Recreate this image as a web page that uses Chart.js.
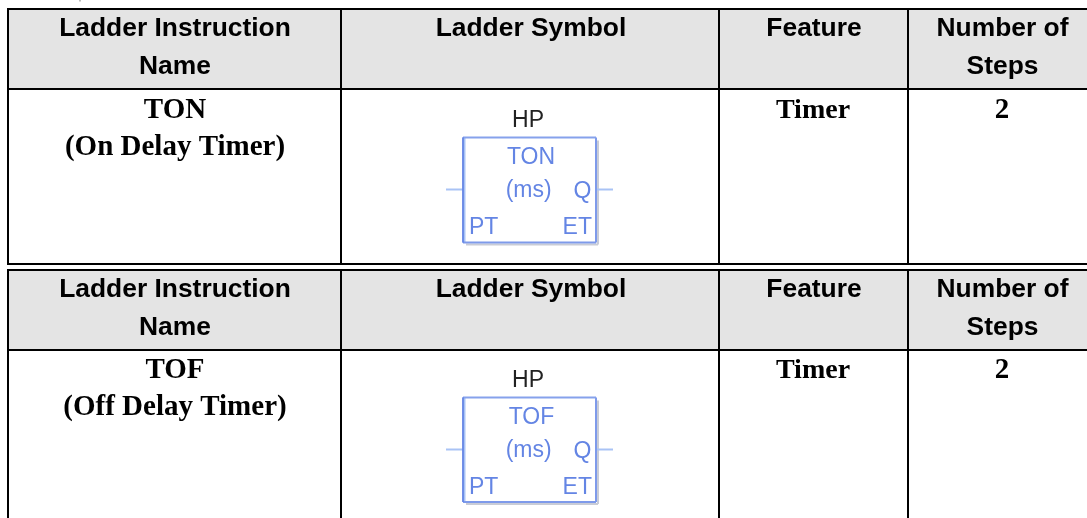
<!DOCTYPE html>
<html>
<head>
<meta charset="utf-8">
<style>
html, body { margin: 0; padding: 0; background: #fff; overflow: hidden; }
#wrap { width: 1087px; height: 518px; }
</style>
<script src="https://cdn.jsdelivr.net/npm/chart.js@4"></script>
</head>
<body>
<div id="wrap"><canvas id="myChart"></canvas></div>
<script>
// table grid
var colEdges = [8, 341, 719, 908, 1087];
var colCenters = [175, 531, 814, 1002.5];
var table1Rows = [9, 89, 264];
var table2Rows = [270, 350, 518];

var headers = [['Ladder Instruction', 'Name'], ['Ladder Symbol'], ['Feature'], ['Number of', 'Steps']];
var names1 = ['TON', '(On Delay Timer)'];
var names2 = ['TOF', '(Off Delay Timer)'];
var feature = 'Timer';
var steps = '2';

var headerBase1 = [35.5, 73.5];
var headerBase2 = [296.5, 334.5];
var bodyBase1 = [118, 155];
var bodyBase2 = [378, 414.5];

// symbol box
var boxX = [463, 596];
var box1Y = [137.5, 242.5];
var box2Y = [397.5, 502];
var wireIn = [446, 463];
var wireOut = [597, 613];

var black = '#000';
var blue = '#6485e4';
var lightBlue = '#a9c3f5';
var shadow = '#c9ccd6';

function hline(x0, x1, y, color, width) {
	return { data: [{x: x0, y: y}, {x: x1, y: y}], borderColor: color, borderWidth: width, pointRadius: 0, fill: false };
}
function vline(x, y0, y1, color, width) {
	return { data: [{x: x, y: y0}, {x: x, y: y1}], borderColor: color, borderWidth: width, pointRadius: 0, fill: false };
}
function headerFill(y0, y1) {
	return {
		data: [{x: colEdges[0], y: y0}, {x: colEdges[4], y: y0}],
		borderColor: 'rgba(0,0,0,0)', borderWidth: 0, pointRadius: 0,
		backgroundColor: '#e4e4e4',
		fill: { target: { value: y1 } }
	};
}

// first dataset ends up on top, so lines go before fills
var datasets = [];
[table1Rows, table2Rows].forEach(function(rows, t) {
	rows.forEach(function(y, i) {
		if (t === 1 && i === 2) return;
		datasets.push(hline(colEdges[0] - 1, colEdges[4], y, black, 2));
	});
	colEdges.slice(0, 4).forEach(function(x) {
		datasets.push(vline(x, rows[0], rows[2], black, 2));
	});
});

[box1Y, box2Y].forEach(function(y) {
	var mid = y[0] + 52;
	datasets.push(vline(boxX[0], y[0], y[1], blue, 1));
	datasets.push(hline(boxX[0], boxX[1], y[0], '#86a2ec', 2));
	datasets.push(hline(boxX[0], boxX[1], y[1], '#7e9aea', 2));
	datasets.push(vline(boxX[1], y[0], y[1], '#7e9aea', 2));
	datasets.push(vline(boxX[0] + 1, y[0], y[1], lightBlue, 3));
	datasets.push(hline(wireIn[0], wireIn[1], mid, lightBlue, 2));
	datasets.push(hline(wireOut[0], wireOut[1], mid, lightBlue, 2));
	datasets.push(hline(boxX[0] + 3, boxX[1] + 2, y[1] + 2, shadow, 2));
	datasets.push(vline(boxX[1] + 2, y[0] + 3, y[1] + 2, shadow, 2));
});

// scrap of text cut off at the top edge
datasets.push(vline(80, 0, 1.5, '#bbbbbb', 2));

datasets.push(headerFill(table1Rows[0], table1Rows[1]));
datasets.push(headerFill(table2Rows[0], table2Rows[1]));

var tablePlugin = {
	id: 'tableText',
	afterDatasetsDraw: function(chart) {
		var c = chart.ctx, sx = chart.scales.x, sy = chart.scales.y;
		function put(str, x, y, font, color, align) {
			c.font = font;
			c.fillStyle = color;
			c.textAlign = align || 'center';
			c.textBaseline = 'alphabetic';
			c.fillText(str, sx.getPixelForValue(x), sy.getPixelForValue(y));
		}
		var sans = 'bold 26.4px "Liberation Sans"';
		var serif = 'bold 29px "Liberation Serif"';
		var thin = '23px "Liberation Sans"';

		[[headerBase1, bodyBase1, names1], [headerBase2, bodyBase2, names2]].forEach(function(t) {
			headers.forEach(function(lines, i) {
				lines.forEach(function(s, j) {
					put(s, colCenters[i], t[0][j], sans, black);
				});
			});
			t[2].forEach(function(s, j) {
				put(s, colCenters[0], t[1][j], serif, black);
			});
			put(feature, 813, t[1][0], 'bold 28px "Liberation Serif"', black);
			put(steps, 1002, t[1][0], serif, black);
		});

		[['TON', box1Y, 531], ['TOF', box2Y, 531.5]].forEach(function(b) {
			var y = b[1][0];
			put('HP', 528, y - 10.7, thin, '#222');
			put(b[0], b[2], y + 26, thin, blue);
			put('(ms)', 528.7, y + 59, thin, blue);
			put('Q', 582.5, y + 60.5, thin, blue);
			put('PT', 469, y + 96, thin, blue, 'left');
			put('ET', 592, y + 96, thin, blue, 'right');
		});
	}
};

var ctx = document.getElementById('myChart');
var myChart = new Chart(ctx, {
	type: 'line',
	data: { datasets: datasets },
	options: {
		responsive: true,
		maintainAspectRatio: false,
		animation: false,
		layout: { padding: 0 },
		elements: { line: { tension: 0 } },
		plugins: { legend: { display: false }, tooltip: { enabled: false } },
		scales: {
			x: { type: 'linear', display: false, min: 0, max: 1087 },
			y: { type: 'linear', display: false, min: 0, max: 518, reverse: true }
		}
	},
	plugins: [tablePlugin]
});
</script>
</body>
</html>
